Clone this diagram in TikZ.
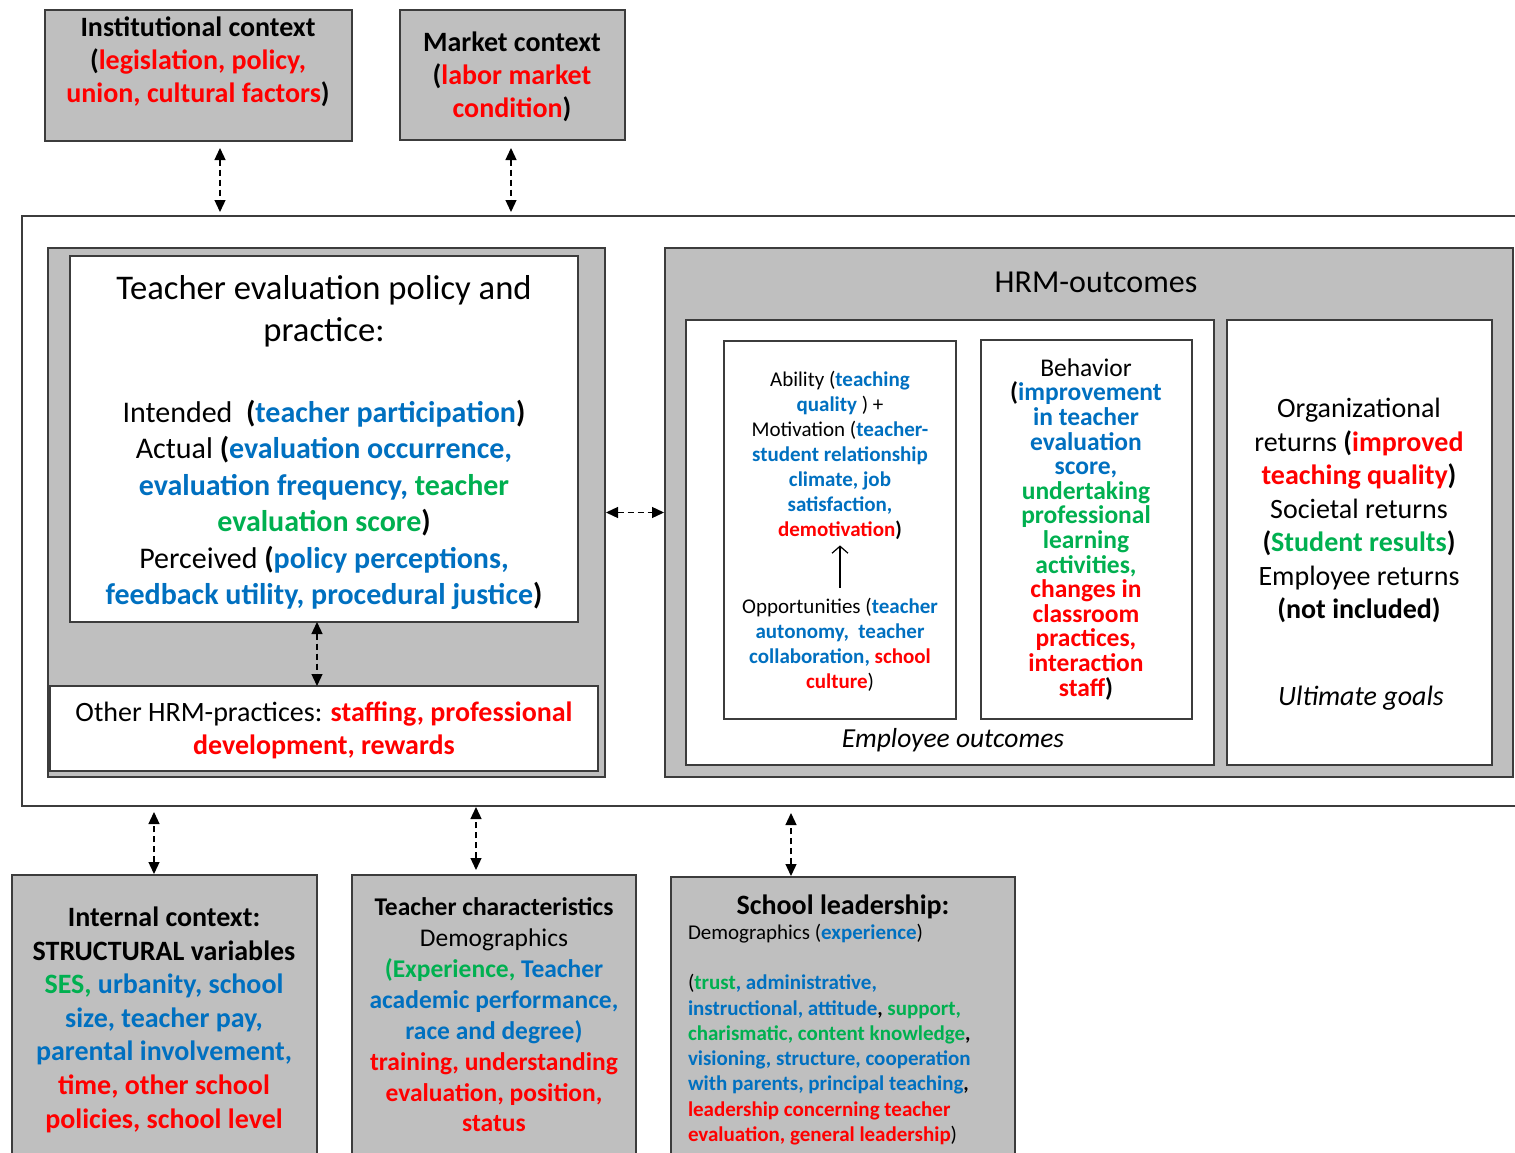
\documentclass[tikz,border=0pt]{standalone}
\usepackage{fontspec}
\setmainfont{Carlito}
\usetikzlibrary{arrows.meta}

\definecolor{tred}{RGB}{255,0,0}
\definecolor{tblue}{RGB}{0,112,192}
\definecolor{tgreen}{RGB}{0,176,80}
\definecolor{panel}{RGB}{191,191,191}
\definecolor{edge}{RGB}{60,60,60}

\newcommand\setfs[2]{\fontsize{#1}{#2}\selectfont}
\newcommand\redb[1]{{\bfseries\color{tred}#1}}
\newcommand\blueb[1]{{\bfseries\color{tblue}#1}}
\newcommand\greenb[1]{{\bfseries\color{tgreen}#1}}

\begin{document}
\begin{tikzpicture}[x=1pt,y=-1pt,
  gbox/.style={draw=edge, line width=1.3pt, fill=panel, inner sep=0pt, outer sep=0pt},
  wbox/.style={draw=edge, line width=1.3pt, fill=white, inner sep=0pt, outer sep=0pt},
  txt/.style={align=center, inner sep=0pt, outer sep=0pt, text=black,
    execute at begin node=\strut, execute at end node=\strut},
  dasharrow/.style={{Triangle[length=12pt,width=11pt]}-{Triangle[length=12pt,width=11pt]},
    line width=1.3pt, dash pattern=on 6pt off 4pt, draw=black},
  uparrow/.style={-{Straight Barb[length=7pt,width=16pt]}, line width=1.2pt, draw=black}
]
\useasboundingbox (0,0) rectangle (1515,1153);
\clip (0,0) rectangle (1515,1153);

% ---------- external context boxes ----------
\node[gbox, minimum width=307pt, minimum height=131pt] (inst) at (198.5,75.5) {};
\node[gbox, minimum width=225pt, minimum height=130pt] (mkt) at (512.5,75) {};

\node[txt, font=\setfs{28}{33}\bfseries] (tInst) at (198,64.5)
  {Institutional context\\ (\redb{legislation, policy,}\\ \redb{union, cultural factors})};
\node[txt, font=\setfs{28}{33}\bfseries] (tMkt) at (512,79.5)
  {Market context\\ (\redb{labor market}\\ \redb{condition})};

% ---------- organisation frame ----------
\node[wbox, minimum width=1508pt, minimum height=590pt] (outer) at (776,511) {};

% left panel: HRM practices
\node[gbox, minimum width=557pt, minimum height=529pt] (lp) at (326.5,512.5) {};
\node[wbox, minimum width=508pt, minimum height=366pt] (tep) at (324,439) {};
\node[wbox, minimum width=548pt, minimum height=85pt] (oth) at (324,728.5) {};

\node[txt, font=\setfs{34.6}{42}] (tTepHead) at (324,315)
  {Teacher evaluation policy and\\ practice:};
\node[txt, font=\setfs{30}{36.5}] (tTepBody) at (324,508)
  {Intended\ \ \textbf{(}\blueb{teacher participation}\textbf{)}\\
   Actual \textbf{(}\blueb{evaluation occurrence,}\\
   \blueb{evaluation frequency,} \greenb{teacher}\\
   \greenb{evaluation score}\textbf{)}\\
   Perceived \textbf{(}\blueb{policy perceptions,}\\
   \blueb{feedback utility, procedural justice}\textbf{)}};
\node[txt, font=\setfs{28}{33}] (tOth) at (324,733.5)
  {Other HRM-practices: \redb{staffing, professional}\\ \redb{development, rewards}};

% right panel: HRM outcomes
\node[gbox, minimum width=848pt, minimum height=529pt] (hrm) at (1089,512.5) {};
\node[txt, font=\setfs{32}{39}] (tHrm) at (1096,285) {HRM-outcomes};
\node[wbox, minimum width=528pt, minimum height=445pt] (emp) at (950,542.5) {};
\node[wbox, minimum width=265pt, minimum height=445pt] (gol) at (1359.5,542.5) {};
\node[wbox, minimum width=232pt, minimum height=378pt] (abl) at (840,530) {};
\node[wbox, minimum width=211pt, minimum height=379pt] (beh) at (1086.5,529.5) {};

\node[txt, font=\setfs{21}{25}] (tAbl) at (840,458)
  {Ability (\blueb{teaching}\\
   \blueb{quality} ) +\\
   Motivation (\blueb{teacher-}\\
   \blueb{student relationship}\\
   \blueb{climate, job}\\
   \blueb{satisfaction,}\\
   \redb{demotivation}\textbf{)}};
\node[txt, font=\setfs{21}{25}] (tOpp) at (840,647.5)
  {Opportunities (\blueb{teacher}\\
   \blueb{autonomy,\ \ teacher}\\
   \blueb{collaboration,} \redb{school}\\
   \redb{culture})};
\draw[uparrow, shorten <=11pt, shorten >=1pt] (tOpp.north) -- (tAbl.south);

\node[txt, font=\setfs{25.5}{24.6}] (tBeh) at (1086,531)
  {Behavior\\
   \textbf{(}\blueb{improvement}\\
   \blueb{in teacher}\\
   \blueb{evaluation}\\
   \blueb{score,}\\
   \greenb{undertaking}\\
   \greenb{professional}\\
   \greenb{learning}\\
   \greenb{activities,}\\
   \redb{changes in}\\
   \redb{classroom}\\
   \redb{practices,}\\
   \redb{interaction}\\
   \redb{staff}\textbf{)}};
\node[txt, font=\setfs{27.5}{33}\itshape] (tEmp) at (953,741) {Employee outcomes};

\node[txt, font=\setfs{28}{33.5}] (tGol) at (1359,513.5)
  {Organizational\\
   returns \textbf{(}\redb{improved}\\
   \redb{teaching quality}\textbf{)}\\
   Societal returns\\
   \textbf{(}\greenb{Student results}\textbf{)}\\
   Employee returns\\
   \textbf{(not included)}};
\node[txt, font=\setfs{28}{33.5}\itshape] (tUlt) at (1361,699) {Ultimate goals};

% ---------- internal context boxes ----------
\node[gbox, minimum width=305pt, minimum height=295pt] (int) at (164.5,1022.5) {};
\node[gbox, minimum width=284pt, minimum height=295pt] (tch) at (494,1022.5) {};
\node[gbox, minimum width=344pt, minimum height=293pt] (ldr) at (843,1023.5) {};

\node[txt, font=\setfs{28}{33.6}\bfseries] (tInt) at (164,1022.5)
  {Internal context:\\
   STRUCTURAL variables\\
   \greenb{SES,} \blueb{urbanity, school}\\
   \blueb{size, teacher pay,}\\
   \blueb{parental involvement,}\\
   \redb{time, other school}\\
   \redb{policies, school level}};
\node[txt, font=\setfs{25.5}{30.9}] (tTch) at (494,1019.5)
  {\textbf{Teacher characteristics}\\
   Demographics\\
   \greenb{(Experience,} \blueb{Teacher}\\
   \blueb{academic performance,}\\
   \blueb{race and degree)}\\
   \redb{training, understanding}\\
   \redb{evaluation, position,}\\
   \redb{status}};
\node[txt, font=\setfs{28}{33}\bfseries] (tLdrHead) at (843,907.5) {School leadership:};
\node[txt, align=left, anchor=west, font=\setfs{21}{25.3}] (tLdr) at (688,1036.5)
  {Demographics (\blueb{experience})\\[25.3pt]
   (\greenb{trust}\blueb{, administrative,}\\
   \blueb{instructional, attitude}\textbf{,} \greenb{support,}\\
   \greenb{charismatic, content knowledge}\textbf{,}\\
   \blueb{visioning, structure, cooperation}\\
   \blueb{with parents, principal teaching}\textbf{,}\\
   \redb{leadership concerning teacher}\\
   \redb{evaluation, general leadership})};

% ---------- reciprocal links ----------
\draw[dasharrow, shorten <=7pt, shorten >=4pt]
  ([xshift=21.5pt]inst.south) -- ([xshift=21.5pt]inst.south |- outer.north);
\draw[dasharrow, shorten <=8pt, shorten >=4pt]
  ([xshift=-1.5pt]mkt.south) -- ([xshift=-1.5pt]mkt.south |- outer.north);
\draw[dasharrow]
  ([xshift=-7pt]tep.south) -- ([xshift=-7pt]tep.south |- oth.north);
\draw[dasharrow, shorten <=1pt, shorten >=1pt] (lp.east) -- (hrm.west);
\draw[dasharrow, shorten <=1pt, shorten >=6pt]
  ([xshift=-10.5pt]int.north) -- ([xshift=-10.5pt]int.north |- outer.south);
\draw[dasharrow, shorten <=5pt, shorten >=1pt]
  ([xshift=-18pt]tch.north) -- ([xshift=-18pt]tch.north |- outer.south);
\draw[dasharrow, shorten <=1pt, shorten >=7pt]
  ([xshift=-52pt]ldr.north) -- ([xshift=-52pt]ldr.north |- outer.south);
\end{tikzpicture}
\end{document}
